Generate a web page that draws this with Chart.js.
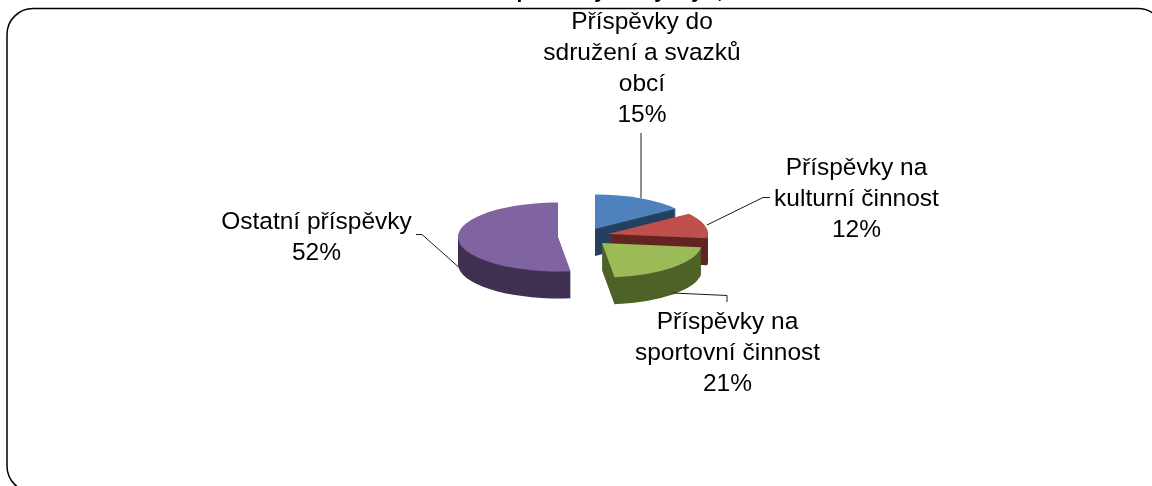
<!DOCTYPE html>
<html lang="cs">
<head>
<meta charset="utf-8">
<style>html,body{margin:0;padding:0;background:#fff}canvas{display:block}</style>
<script src="https://cdn.jsdelivr.net/npm/chart.js@4"></script>
</head>
<body>
<canvas id="c" width="1152" height="486"></canvas>
<script>
const categories = ["Příspěvky do sdružení a svazků obcí","Příspěvky na kulturní činnost","Příspěvky na sportovní činnost","Ostatní příspěvky"];
const values = [15,12,21,52];
const labelLines = [["Příspěvky do","sdružení a svazků","obcí"],["Příspěvky na","kulturní činnost"],["Příspěvky na","sportovní činnost"],["Ostatní příspěvky"]];
const topColors = ["#4f81bd","#c0504d","#9bbb59","#8064a2"];
const wallColors = ["#254061","#632523","#4f6228","#403152"];
const titleFragments = [["p",523],["y",600],["y",660],["y",697],[",",720]];

const FONT = 'Liberation Sans';
const squash = 0.345, depth = 27;
const shifts = [[18,-9],[31,-4],[25,5],[-19,-1]];
const labelPos = [[642,29],[856.5,175],[727.5,329],[316.5,229]];
const leaders = [
  [[641,198],[641,133]],
  [[707,225],[763,197.5],[770,197.5]],
  [[673,293],[727,295.5],[727,302]],
  [[458,266.5],[422,234.5],[416,234.5]]
];

const pie3d = {
  id:'pie3d',
  beforeDatasetsDraw(chart){
    const ctx = chart.ctx, arcs = chart.getDatasetMeta(0).data;
    arcs.forEach((arc,i)=>{
      const [dx,dy] = shifts[i];
      const o = arc.options;
      const paint = (off,color)=>{
        ctx.save();
        ctx.translate(arc.x+dx, arc.y+dy+off);
        ctx.scale(1,squash);
        ctx.translate(-arc.x,-arc.y);
        o.backgroundColor = color;
        o.borderColor = color;
        arc.draw(ctx);
        ctx.restore();
      };
      for(let d=depth;d>=1;d--) paint(d,wallColors[i]);
      paint(0,topColors[i]);
    });
    return false;
  },
  afterDraw(chart){
    const ctx = chart.ctx;
    ctx.save();
    // frame
    ctx.strokeStyle='#000'; ctx.lineWidth=1.5;
    ctx.beginPath(); ctx.roundRect(7,8.5,1157,483.5,26); ctx.stroke();
    // clipped title
    ctx.fillStyle='#000'; ctx.textAlign='center'; ctx.textBaseline='alphabetic';
    ctx.font='bold 21px "'+FONT+'"';
    titleFragments.forEach(([t,x])=>ctx.fillText(t,x,-2.5));
    // leader lines
    ctx.strokeStyle='#1a1a1a'; ctx.lineWidth=1;
    leaders.forEach(l=>{
      ctx.beginPath();
      l.forEach(([x,y],k)=>k?ctx.lineTo(x,y):ctx.moveTo(x,y));
      ctx.stroke();
    });
    // labels
    const total = values.reduce((a,b)=>a+b,0);
    ctx.font='24.5px "'+FONT+'"';
    labelLines.forEach((lines,i)=>{
      const [x,y]=labelPos[i];
      [...lines, Math.round(values[i]/total*100)+'%'].forEach((s,k)=>ctx.fillText(s,x,y+k*31));
    });
    ctx.restore();
  }
};

new Chart(document.getElementById('c'),{
  type:'pie',
  data:{labels:categories,datasets:[{data:values,backgroundColor:topColors,borderWidth:0,radius:100}]},
  options:{
    responsive:false,animation:false,
    layout:{padding:{left:2,right:0,top:0,bottom:10}},
    plugins:{legend:{display:false},title:{display:false},tooltip:{enabled:false}}
  },
  plugins:[pie3d]
});
</script>
</body>
</html>
